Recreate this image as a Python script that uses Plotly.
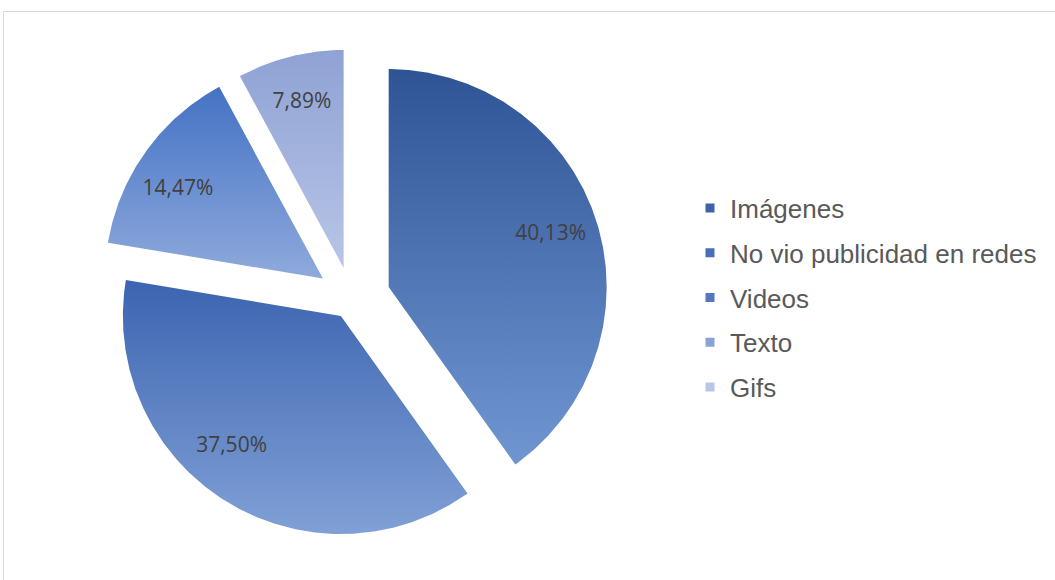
import numpy as np
import plotly.graph_objects as go

# Share of respondents by type of advertising seen on social networks
categories = ["Imágenes", "No vio publicidad en redes", "Videos", "Texto", "Gifs"]
percentages = [40.13, 0.0, 37.50, 14.47, 7.89]

# Vertical gradient per slice (top colour -> bottom colour)
top_colors = ["#2F5496", "#36599F", "#3C64B0", "#4472C4", "#8FA2D4"]
bottom_colors = ["#7096D2", "#7499D3", "#80A0D6", "#8FAADC", "#B8C5E7"]
legend_colors = ["#3F62A8", "#4A6DB8", "#5378C0", "#8AA2D6", "#BAC6E6"]

# explosion of each slice (fraction of radius) and label angle tweak (deg)
slice_pull = [0.179, 0.0, 0.092, 0.161, 0.147]
label_turn = [0.0, 0.0, 8.0, -4.0, 0.0]

W, H = 1055, 580
RADIUS_PX = 218            # pie radius in pixels
CENTER_PX = (351.5, 299)   # pie centre, pixels from left / top
LABEL_R = 0.78             # label distance from slice apex, fraction of radius

# axis ranges in radius units, so one unit is RADIUS_PX on both axes
x_range = [-CENTER_PX[0] / RADIUS_PX, (W - CENTER_PX[0]) / RADIUS_PX]
y_range = [-(H - CENTER_PX[1]) / RADIUS_PX, CENTER_PX[1] / RADIUS_PX]

fig = go.Figure()

# legend entries (one group per category so they can be spaced apart)
for name, col in zip(categories, legend_colors):
    fig.add_trace(go.Scatter(
        x=[None], y=[None], mode="markers", name=name, legendgroup=name,
        marker=dict(symbol="square", size=9, color=col, line=dict(width=0)),
    ))

# slices: angles run clockwise from 12 o'clock
total = sum(percentages)
start = 0.0
lab_x, lab_y, lab_t = [], [], []
for name, pct, c_top, c_bot, pull, turn in zip(
        categories, percentages, top_colors, bottom_colors, slice_pull, label_turn):
    span = pct / total * 2 * np.pi
    if pct > 0:
        mid = start + span / 2
        ox, oy = pull * np.sin(mid), pull * np.cos(mid)
        th = np.linspace(start, start + span, max(int(span * 120), 3))
        xs = np.concatenate([[ox], ox + np.sin(th), [ox]])
        ys = np.concatenate([[oy], oy + np.cos(th), [oy]])
        fig.add_trace(go.Scatter(
            x=xs, y=ys, mode="lines", fill="toself",
            line=dict(width=0, color="rgba(0,0,0,0)"),
            fillgradient=dict(type="vertical",
                              colorscale=[[0, c_bot], [1, c_top]]),
            legendgroup=name, showlegend=False, hoverinfo="skip",
        ))
        la = mid + np.radians(turn)
        lab_x.append(ox + LABEL_R * np.sin(la))
        lab_y.append(oy + LABEL_R * np.cos(la))
        lab_t.append(f"{pct:.2f}".replace(".", ",") + "%")
    start += span

fig.add_trace(go.Scatter(
    x=lab_x, y=lab_y, text=lab_t, mode="text", showlegend=False,
    hoverinfo="skip",
    textfont=dict(family="Open Sans, sans-serif", size=21, color="#404040"),
))

# chart frame
fig.add_shape(type="rect", xref="paper", yref="paper",
              x0=3.5 / W, x1=1.02, y0=-0.02, y1=1 - 11.5 / H,
              line=dict(color="#D9D9D9", width=1), fillcolor="rgba(0,0,0,0)",
              layer="below")

fig.update_layout(
    width=W, height=H,
    margin=dict(l=0, r=0, t=0, b=0),
    paper_bgcolor="white", plot_bgcolor="white",
    xaxis=dict(range=x_range, visible=False, fixedrange=True),
    yaxis=dict(range=y_range, visible=False, fixedrange=True),
    legend=dict(
        x=690 / W, xanchor="left", y=1 - 298 / H, yanchor="middle",
        font=dict(family="Liberation Sans, Arial, sans-serif", size=26,
                  color="#595959"),
        tracegroupgap=8, bgcolor="rgba(0,0,0,0)", traceorder="grouped",
    ),
)

fig.write_html("out.html")
